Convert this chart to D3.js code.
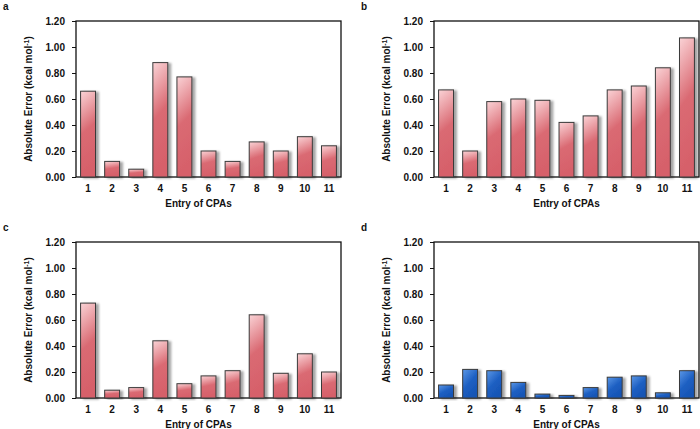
<!DOCTYPE html>
<html>
<head>
<meta charset="utf-8">
<script src="https://cdn.jsdelivr.net/npm/d3@7"></script>
<style>
  body { margin: 0; background: #fff; }
  svg { display: block; font-family: Arial, "Liberation Sans", sans-serif; font-weight: bold; }
</style>
</head>
<body>
<div id="chart"></div>
<script>
// entries of CPAs on the x axis
var entries = ["1", "2", "3", "4", "5", "6", "7", "8", "9", "10", "11"];
// absolute errors (kcal/mol)
var errA = [0.66, 0.12, 0.06, 0.88, 0.77, 0.20, 0.12, 0.27, 0.20, 0.31, 0.24];
var errB = [0.67, 0.20, 0.58, 0.60, 0.59, 0.42, 0.47, 0.67, 0.70, 0.84, 1.07];
var errC = [0.73, 0.06, 0.08, 0.44, 0.11, 0.17, 0.21, 0.64, 0.19, 0.34, 0.20];
var errD = [0.10, 0.22, 0.21, 0.12, 0.03, 0.02, 0.08, 0.16, 0.17, 0.04, 0.21];
var yTicks = [0, 0.2, 0.4, 0.6, 0.8, 1.0, 1.2];
var panelLetters = ["a", "b", "c", "d"];

var W = 700, H = 429;
var svg = d3.select("#chart").append("svg")
    .attr("width", W)
    .attr("height", H);

var defs = svg.append("defs");

// red gradient - light pink on top, red below
var gRed = defs.append("linearGradient")
    .attr("id", "gRed")
    .attr("x1", 0).attr("y1", 0)
    .attr("x2", 0.15).attr("y2", 1);
gRed.append("stop").attr("offset", "0%").attr("stop-color", "#fad3d6");
gRed.append("stop").attr("offset", "50%").attr("stop-color", "#da6a73");
gRed.append("stop").attr("offset", "100%").attr("stop-color", "#d6606a");

var gBlue = defs.append("linearGradient")
    .attr("id", "gBlue")
    .attr("x1", 0).attr("y1", 0)
    .attr("x2", 0.6).attr("y2", 1);
gBlue.append("stop").attr("offset", "0%").attr("stop-color", "#5b97e6");
gBlue.append("stop").attr("offset", "55%").attr("stop-color", "#1d5fc2");
gBlue.append("stop").attr("offset", "100%").attr("stop-color", "#1654b4");

var shadow = defs.append("filter")
    .attr("id", "shadow")
    .attr("x", "-20%").attr("y", "-20%")
    .attr("width", "160%").attr("height", "140%");
shadow.append("feDropShadow")
    .attr("dx", 3).attr("dy", 1)
    .attr("stdDeviation", 1.3)
    .attr("flood-color", "#000")
    .attr("flood-opacity", 0.35);

var panels = [
    { data: errA, x0: 76,  y0: 21,  fill: "url(#gRed)",  titleShift: -10 },
    { data: errB, x0: 434, y0: 21,  fill: "url(#gRed)",  titleShift: 0 },
    { data: errC, x0: 76,  y0: 242, fill: "url(#gRed)",  titleShift: -10 },
    { data: errD, x0: 434, y0: 242, fill: "url(#gBlue)", titleShift: 0 }
];
var pw = 265, ph = 156;

panels.forEach(function (p, i) {
    var g = svg.append("g").attr("transform", "translate(" + p.x0 + "," + p.y0 + ")");

    var x = d3.scaleBand()
        .domain(entries)
        .range([0, pw])
        .paddingInner(0.38)
        .paddingOuter(0.19);
    var y = d3.scaleLinear()
        .domain([0, 1.2])
        .range([ph, 0]);

    // frame
    g.append("rect")
        .attr("width", pw)
        .attr("height", ph)
        .attr("fill", "#fff")
        .attr("stroke", "#111")
        .attr("stroke-width", 1.3);

    g.selectAll(".bar")
        .data(p.data)
        .enter().append("rect")
        .attr("class", "bar")
        .attr("x", function (d, j) { return x(entries[j]); })
        .attr("y", function (d) { return y(d); })
        .attr("width", x.bandwidth())
        .attr("height", function (d) { return ph - y(d); })
        .attr("fill", p.fill)
        .attr("stroke", "#3a3a3a")
        .attr("stroke-width", 1)
        .attr("filter", "url(#shadow)");

    var yAxis = g.append("g")
        .call(d3.axisLeft(y).tickValues(yTicks).tickFormat(d3.format(".2f")).tickSize(4).tickPadding(7));
    yAxis.select(".domain").remove();
    yAxis.selectAll("line").attr("stroke", "#111");
    yAxis.selectAll("text")
        .attr("fill", "#111")
        .style("font-size", "10px")
        .style("font-weight", "bold");

    var xAxis = g.append("g")
        .attr("transform", "translate(0," + ph + ")")
        .call(d3.axisBottom(x).tickSize(0).tickPadding(8));
    xAxis.select(".domain").remove();
    xAxis.selectAll("text")
        .attr("fill", "#111")
        .style("font-size", "10px")
        .style("font-weight", "bold");

    // axis titles
    g.append("text")
        .attr("transform", "translate(" + (-44) + "," + (ph / 2) + ") rotate(-90)")
        .attr("text-anchor", "middle")
        .attr("fill", "#111")
        .style("font-size", "10px")
        .text("Absolute Error (kcal mol")
        .append("tspan")
        .attr("dy", -3.5)
        .style("font-size", "7px")
        .text("-1")
        .select(function () { return this.parentNode; })
        .append("tspan")
        .attr("dy", 3.5)
        .text(")");

    g.append("text")
        .attr("x", pw / 2 + p.titleShift)
        .attr("y", ph + 30)
        .attr("text-anchor", "middle")
        .attr("fill", "#111")
        .style("font-size", "10px")
        .text("Entry of CPAs");

    // panel letter
    svg.append("text")
        .attr("x", i % 2 === 0 ? 3 : 361)
        .attr("y", i < 2 ? 10 : 231)
        .attr("fill", "#111")
        .style("font-size", "10px")
        .text(panelLetters[i]);
});
</script>
</body>
</html>
